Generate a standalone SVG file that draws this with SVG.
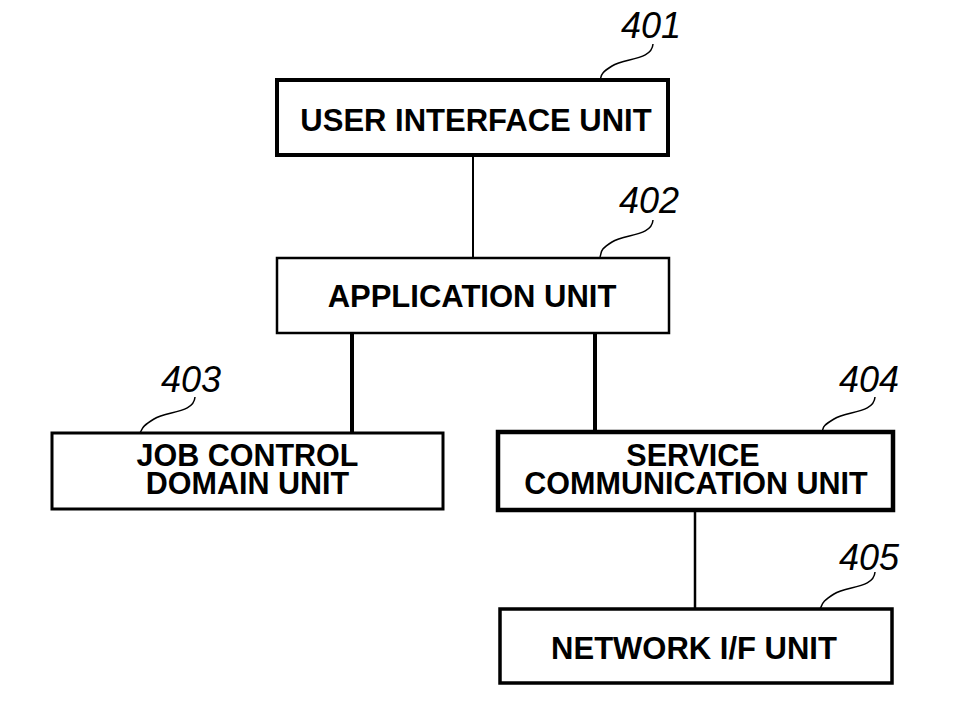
<svg xmlns="http://www.w3.org/2000/svg" width="980" height="701" viewBox="0 0 980 701">
<style>
.box{fill:#fff;stroke:#000}
.t{font-family:"Liberation Sans",Arial,sans-serif;font-weight:bold;font-size:31px;text-anchor:middle;fill:#000}
.t2{font-size:30.5px}
.ref{font-family:"Liberation Sans",Arial,sans-serif;font-style:italic;font-size:36px;fill:#000}
.lead{fill:none;stroke:#000;stroke-width:1.5}
.c{stroke:#000;fill:none}
</style>
<rect width="980" height="701" fill="#fff"/>
<g id="connectors">
<line class="c" x1="473" y1="155" x2="473" y2="258" stroke-width="2"/>
<line class="c" x1="352" y1="333" x2="352" y2="433" stroke-width="4"/>
<line class="c" x1="595" y1="333" x2="595" y2="432" stroke-width="4"/>
<line class="c" x1="695" y1="510" x2="695" y2="609" stroke-width="2.5"/>
</g>
<g id="n401">
<rect class="box" x="277" y="80" width="391" height="75" stroke-width="4"/>
<text class="t" x="476" y="131">USER INTERFACE UNIT</text>
<path class="lead" d="M653 44 C652 60 625 58 612 66 S602 76 600 80"/>
<text class="ref" x="621" y="38">401</text>
</g>
<g id="n402">
<rect class="box" x="277" y="258" width="392" height="75" stroke-width="2.5"/>
<text class="t" x="472" y="307">APPLICATION UNIT</text>
<path class="lead" d="M653 220 C652 236 625 234 612 242 S602 252 600 257"/>
<text class="ref" x="619" y="213">402</text>
</g>
<g id="n403">
<rect class="box" x="52" y="433" width="391" height="76" stroke-width="3"/>
<text class="t t2"><tspan x="247.5" y="466">JOB CONTROL</tspan><tspan x="247.5" y="494">DOMAIN UNIT</tspan></text>
<path class="lead" d="M195 397 C194 413 167 411 154 419 S143 428 140 433"/>
<text class="ref" x="161" y="392">403</text>
</g>
<g id="n404">
<rect class="box" x="498" y="432" width="395" height="78" stroke-width="4.5"/>
<text class="t t2"><tspan x="693" y="466">SERVICE</tspan><tspan x="696" y="494">COMMUNICATION UNIT</tspan></text>
<path class="lead" d="M875 397 C874 413 847 411 834 419 S824 427 822 432"/>
<text class="ref" x="839" y="392">404</text>
</g>
<g id="n405">
<rect class="box" x="500" y="609" width="392" height="74" stroke-width="3.5"/>
<text class="t" x="694" y="659">NETWORK I/F UNIT</text>
<path class="lead" d="M875 572 C874 588 847 586 834 594 S823 604 820 609"/>
<text class="ref" x="839" y="570">405</text>
</g>
</svg>
